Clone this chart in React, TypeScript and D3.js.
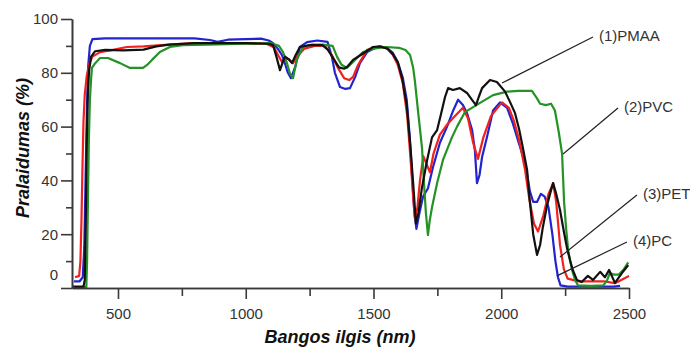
import { useEffect, useRef } from "react";
import * as d3 from "d3";

type Pt = [number, number];

// (1) PMAA - juoda kreivė [bangos ilgis nm, pralaidumas %]
const pmaa: Pt[] = [
  [324, 0.5], [365, 0.5], [370, 3], [374, 25], [378, 55], [382, 72], [387, 81], [395, 86],
  [410, 88], [450, 88.5], [520, 88.3], [600, 88.6], [650, 89.8], [700, 90.5], [800, 91],
  [1000, 91], [1090, 90.8], [1107, 90.3], [1120, 86], [1134, 81], [1145, 84], [1154, 86],
  [1168, 85], [1181, 83.6], [1195, 86.5], [1212, 89.6], [1250, 90.3], [1300, 90.3],
  [1322, 88.5], [1345, 85], [1365, 82], [1385, 81.5], [1400, 82.5], [1420, 84.8],
  [1450, 86.6], [1498, 89.6], [1525, 89.8], [1555, 89], [1575, 87], [1595, 84], [1612, 78],
  [1630, 68], [1645, 52], [1656, 38], [1666, 24], [1676, 28], [1690, 37.5], [1710, 47.6],
  [1729, 56], [1749, 58.7], [1765, 65], [1780, 71], [1792, 74.3], [1811, 73.6],
  [1838, 74.3], [1866, 72.5], [1885, 70], [1901, 68], [1912, 71], [1925, 74.3],
  [1956, 77.3], [1983, 76.6], [2015, 73], [2035, 69], [2054, 65], [2070, 59], [2085, 52],
  [2101, 44], [2110, 34], [2125, 20], [2140, 12.3], [2152, 16], [2163, 22.7], [2180, 31],
  [2191, 35], [2203, 39], [2215, 35], [2230, 29], [2245, 21], [2257, 15], [2270, 10],
  [2280, 6.7], [2296, 3], [2315, 2.2], [2339, 4.5], [2359, 3], [2387, 6], [2406, 4],
  [2422, 6.7], [2445, 1.9], [2473, 5.6], [2497, 8.5],
];

// (2) PVC - žalia
const pvc: Pt[] = [
  [330, 0.3], [376, 0.3], [379, 10], [382, 30], [386, 55], [390, 70], [395, 78],
  [398, 81.8], [410, 83.5], [430, 85.5], [461, 85.5], [508, 83.6], [547, 81.8],
  [598, 81.8], [615, 83], [633, 84.8], [664, 87.7], [703, 89.6], [754, 90.3], [850, 90.5],
  [1000, 90.8], [1100, 91], [1130, 90], [1146, 87.7], [1160, 84], [1172, 80], [1185, 78],
  [1200, 84.8], [1224, 89.6], [1260, 90.5], [1300, 90.5], [1340, 90], [1357, 86],
  [1375, 83], [1396, 81.8], [1420, 84], [1459, 87.7], [1500, 89], [1550, 89.6],
  [1600, 89.3], [1625, 88.5], [1643, 86.6], [1655, 82], [1662, 77], [1674, 66],
  [1690, 52], [1697, 40], [1705, 28], [1713, 19.7], [1720, 25], [1729, 30], [1749, 39],
  [1772, 47.6], [1807, 56], [1827, 60], [1858, 65.4], [1917, 68.8], [1968, 71.7],
  [2023, 73], [2066, 73.3], [2120, 73.3], [2140, 70.5], [2152, 68.5], [2175, 68],
  [2195, 68.5], [2210, 66], [2225, 58], [2238, 50], [2246, 32], [2254, 22], [2262, 14],
  [2277, 6.7], [2289, 3], [2300, 1], [2350, 0.8], [2400, 1], [2415, 3], [2425, 5.6],
  [2440, 5], [2460, 5], [2480, 7], [2497, 9.5],
];

// (3) PET - raudona
const pet: Pt[] = [
  [332, 4], [348, 4.5], [353, 10], [357, 25], [361, 45], [365, 62], [370, 72], [378, 79],
  [388, 83.5], [400, 86], [430, 87.7], [480, 88.5], [535, 89.6], [600, 89.8], [700, 90.5],
  [800, 91], [1000, 91], [1080, 90.8], [1110, 89.5], [1130, 86], [1142, 84], [1155, 85.5],
  [1170, 85], [1185, 83.6], [1200, 86], [1230, 89], [1270, 90], [1310, 90], [1337, 86.6],
  [1360, 82], [1385, 78], [1405, 77.3], [1420, 78.5], [1440, 83], [1475, 88.5],
  [1525, 89.6], [1550, 89.3], [1576, 86.6], [1595, 83], [1615, 76], [1632, 64], [1645, 48],
  [1655, 34], [1662, 26], [1672, 30], [1682, 40], [1695, 49], [1708, 46], [1721, 43],
  [1735, 50], [1760, 57], [1790, 61], [1820, 64], [1850, 67], [1870, 63], [1890, 54],
  [1909, 48], [1930, 56], [1960, 64], [2003, 69], [2030, 67], [2050, 62], [2070, 55],
  [2093, 44], [2110, 33], [2128, 24], [2144, 21], [2165, 27], [2185, 35], [2203, 39],
  [2215, 32], [2230, 16], [2245, 7], [2260, 3.5], [2300, 2.5], [2400, 2.5], [2445, 1.8],
  [2470, 3], [2500, 4.5],
];

// (4) PC - mėlyna
const pc: Pt[] = [
  [328, 2.5], [350, 2.5], [362, 4], [368, 15], [373, 40], [378, 65], [383, 82], [390, 90],
  [400, 92.5], [450, 92.8], [600, 92.8], [800, 92.8], [860, 92.2], [890, 91.5], [930, 92.3],
  [1000, 92.5], [1060, 92.7], [1090, 92], [1107, 91], [1125, 89], [1142, 86.6], [1155, 83],
  [1165, 80], [1177, 78], [1193, 82], [1212, 89.6], [1240, 91.4], [1280, 92], [1320, 91.5],
  [1337, 86], [1349, 80], [1369, 74.7], [1390, 74], [1408, 74.3], [1428, 78.4],
  [1447, 83.6], [1475, 87.7], [1514, 89.6], [1530, 89.8], [1555, 89], [1575, 87.5],
  [1595, 84], [1615, 78], [1630, 70], [1642, 56], [1652, 40], [1660, 28], [1668, 22],
  [1680, 28], [1694, 34], [1713, 37], [1733, 45], [1760, 54], [1788, 60], [1812, 66],
  [1831, 70], [1850, 68], [1866, 65], [1886, 58.7], [1897, 51], [1905, 39], [1915, 42],
  [1925, 48.7], [1944, 56], [1968, 66], [1995, 69], [2023, 67], [2046, 61], [2065, 55],
  [2085, 49], [2100, 43], [2112, 36], [2125, 32], [2140, 32], [2155, 35], [2170, 34],
  [2185, 30], [2200, 20], [2212, 10], [2222, 4], [2232, 1], [2260, 0.5], [2350, 0.5],
  [2440, 0.5], [2465, 0.8],
];

const xTicks = [500, 1000, 1500, 2000, 2500];
const xMinorTicks = [750, 1250, 1750, 2250];
const yTicks = [0, 20, 40, 60, 80, 100];
const yMinorTicks = [10, 30, 50, 70, 90];

// anotacijų užrašai ir linijų galai (duomenų vienetais)
const annotLabels = ["(1)PMAA", "(2)PVC", "(3)PET", "(4)PC"];
const annotStart: Pt[] = [[2359, 93.3], [2457, 66.9], [2531, 34.6], [2492, 17.1]];
const annotEnd: Pt[] = [[2003, 76.2], [2242, 49.8], [2230, 11.5], [2218, 4.5]];

const FONT = "Arial, 'Liberation Sans', sans-serif";

const App = () => {
  const ref = useRef<SVGSVGElement | null>(null);

  useEffect(() => {
    if (!ref.current) return;
    const svg = d3.select(ref.current);
    svg.selectAll("*").remove();

    const x = d3.scaleLinear().domain([320, 2500]).range([72, 629]);
    const y = d3.scaleLinear().domain([0, 100]).range([288, 19]);

    svg.append("rect").attr("width", 690).attr("height", 347).attr("fill", "#fff");

    // kreivės (piešimo tvarka: mėlyna, raudona, žalia, juoda)
    const series = [
      { data: pc, color: "#2323cf" },
      { data: pet, color: "#f2201f" },
      { data: pvc, color: "#249224" },
      { data: pmaa, color: "#111111" },
    ];

    const line = d3
      .line<Pt>()
      .x((d) => x(d[0]))
      .y((d) => y(d[1]));

    series.forEach((s) => {
      svg
        .append("path")
        .datum(s.data)
        .attr("fill", "none")
        .attr("stroke", s.color)
        .attr("stroke-width", 2.2)
        .attr("stroke-linejoin", "round")
        .attr("d", line);
    });

    const axisColor = "#3a3a3a";

    // Y ašis
    const yAxis = svg
      .append("g")
      .attr("transform", "translate(72,0)")
      .call(
        d3.axisLeft(y).tickValues(yTicks).tickSize(11).tickSizeOuter(0).tickPadding(3)
          .tickFormat(d3.format("d"))
      );
    svg
      .append("g")
      .attr("transform", "translate(72,0)")
      .call(d3.axisLeft(y).tickValues(yMinorTicks).tickSize(6).tickSizeOuter(0).tickFormat(() => ""));

    // X ašis
    const xAxis = svg
      .append("g")
      .attr("transform", "translate(0,288)")
      .call(
        d3.axisBottom(x).tickValues(xTicks).tickSize(11).tickSizeOuter(0).tickPadding(9)
          .tickFormat(d3.format("d"))
      );
    svg
      .append("g")
      .attr("transform", "translate(0,288)")
      .call(d3.axisBottom(x).tickValues(xMinorTicks).tickSize(8).tickSizeOuter(0).tickFormat(() => ""));

    svg.selectAll(".domain, .tick line").attr("stroke", axisColor).attr("stroke-width", 1.6);

    [yAxis, xAxis].forEach((a) =>
      a
        .selectAll("text")
        .attr("fill", "#333")
        .style("font-family", FONT)
        .style("font-size", "15px")
    );

    // "0" užrašas originale pakeltas virš ašies
    yAxis
      .selectAll<SVGTextElement, number>("text")
      .filter((d) => d === 0)
      .attr("dy", "-0.55em");

    // ašių pavadinimai
    svg
      .append("text")
      .attr("x", 340)
      .attr("y", 343)
      .attr("text-anchor", "middle")
      .style("font-family", FONT)
      .style("font-size", "18px")
      .style("font-weight", "700")
      .style("font-style", "italic")
      .attr("fill", "#111")
      .text("Bangos ilgis (nm)");

    svg
      .append("text")
      .attr("transform", "translate(29,148) rotate(-90)")
      .attr("text-anchor", "middle")
      .style("font-family", FONT)
      .style("font-size", "18px")
      .style("font-weight", "700")
      .style("font-style", "italic")
      .attr("fill", "#111")
      .text("Pralaidumas (%)");

    // anotacijos
    annotLabels.forEach((label, i) => {
      const [sx, sy] = annotStart[i];
      const [ex, ey] = annotEnd[i];
      svg
        .append("line")
        .attr("x1", x(sx))
        .attr("y1", y(sy))
        .attr("x2", x(ex))
        .attr("y2", y(ey))
        .attr("stroke", "#222")
        .attr("stroke-width", 1.2);
      svg
        .append("text")
        .attr("x", x(sx) + 6)
        .attr("y", y(sy) + 4)
        .style("font-family", FONT)
        .style("font-size", "15px")
        .attr("fill", "#333")
        .text(label);
    });
  }, []);

  return (
    <svg
      ref={ref}
      width={690}
      height={347}
      style={{ position: "absolute", left: 0, top: 0, display: "block" }}
    />
  );
};

export default App;
